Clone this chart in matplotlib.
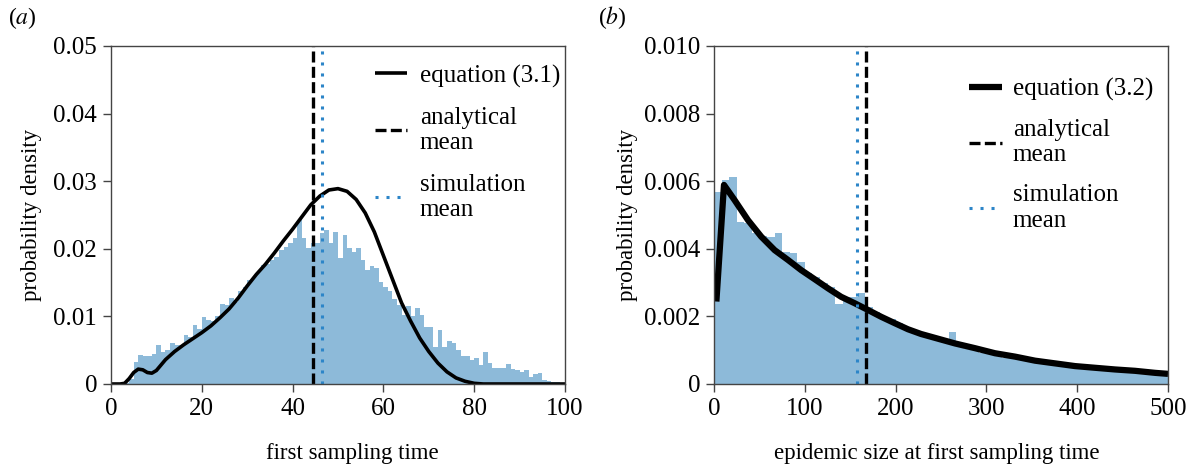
import numpy as np
import matplotlib
matplotlib.use("Agg")
import matplotlib.pyplot as plt

plt.rcParams['font.family'] = ['Liberation Serif', 'DejaVu Serif']
plt.rcParams['mathtext.fontset'] = 'stix'

# ---------------- data: panel (a) ----------------
hist_a_binwidth = 1
hist_a_values = [
    0, 0, 0, 0.0002, 0.0008, 0.0033, 0.0043, 0.0042, 0.0041, 0.0045,
    0.0058, 0.0047, 0.0050, 0.0061, 0.0058, 0.0058, 0.0072, 0.0070, 0.0087, 0.0082,
    0.0099, 0.0095, 0.0093, 0.0100, 0.0119, 0.0117, 0.0127, 0.0122, 0.0137, 0.0144,
    0.0154, 0.0159, 0.0166, 0.0176, 0.0178, 0.0183, 0.0188, 0.0198, 0.0202, 0.0208,
    0.0216, 0.0243, 0.0216, 0.0201, 0.0208, 0.0208, 0.0223, 0.0228, 0.0208, 0.0225,
    0.0186, 0.0221, 0.0201, 0.0196, 0.0201, 0.0183, 0.0168, 0.0174, 0.0171, 0.0151,
    0.0144, 0.0137, 0.0126, 0.0117, 0.0102, 0.0115, 0.0100, 0.0113, 0.0102, 0.0085,
    0.0084, 0.0055, 0.0080, 0.0055, 0.0064, 0.0061, 0.0051, 0.0041, 0.0041, 0.0036,
    0.0038, 0.0028, 0.0048, 0.0031, 0.0024, 0.0024, 0.0024, 0.0030, 0.0022, 0.0020,
    0.0018, 0.0020, 0.0010, 0.0015, 0.0017, 0.0006, 0.0005, 0.0003, 0.0003, 0.0002,
]
curve_a_x = [0, 2, 3, 4, 5, 6, 7, 8, 9, 10, 11, 12, 14, 16, 18, 20, 22, 24, 26, 28,
             30, 32, 34, 36, 38, 40, 42, 44, 46, 48, 50, 52, 54, 56, 58, 60, 62, 64,
             66, 68, 70, 72, 74, 76, 78, 80, 82, 100]
curve_a_y = [0, 0, 0.0001, 0.0008, 0.0017, 0.0022, 0.0021, 0.0017, 0.0016, 0.0020,
             0.0028, 0.0036, 0.0048, 0.0058, 0.0067, 0.0076, 0.0086, 0.0098, 0.0111,
             0.0127, 0.0145, 0.0162, 0.0177, 0.0194, 0.0212, 0.0229, 0.0247, 0.0265,
             0.0278, 0.0287, 0.0289, 0.0285, 0.0273, 0.0253, 0.0225, 0.0190, 0.0155,
             0.0120, 0.0093, 0.0068, 0.0048, 0.0031, 0.0018, 0.0009, 0.0004, 0.0001,
             0, 0]
analytical_mean_a = 44.4
simulation_mean_a = 46.4
xticks_a = [0, 20, 40, 60, 80, 100]
yticks_a = [0, 0.01, 0.02, 0.03, 0.04, 0.05]
yticklabels_a = ['0', '0.01', '0.02', '0.03', '0.04', '0.05']

# ---------------- data: panel (b) ----------------
hist_b_binwidth = 500 / 60
hist_b_values = [
    0.00569, 0.00604, 0.00611, 0.00480, 0.00475, 0.00446, 0.00438, 0.00436, 0.00446, 0.00392,
    0.00387, 0.00362, 0.00327, 0.00318, 0.00298, 0.00288, 0.00237, 0.00258, 0.00258, 0.00268,
    0.00229, 0.00214, 0.00199, 0.00191, 0.00180, 0.00165, 0.00160, 0.00150, 0.00145, 0.00135,
    0.00125, 0.00155, 0.00108, 0.00105, 0.00102, 0.00092, 0.00090, 0.00087, 0.00078, 0.00079,
    0.00075, 0.00068, 0.00066, 0.00062, 0.00060, 0.00056, 0.00055, 0.00051, 0.00050, 0.00047,
    0.00046, 0.00044, 0.00042, 0.00040, 0.00039, 0.00037, 0.00036, 0.00034, 0.00031, 0.00029,
]
curve_b_x = [2.6, 11, 22.7, 37.4, 52, 66.8, 81.5, 96, 110.9, 125.6, 140, 154.9, 169.6,
             184, 199, 213.6, 228, 246.7, 265.4, 287.4, 309.5, 331.5, 353.6, 375.6,
             397.6, 419.6, 441.7, 463.7, 485.7, 500]
curve_b_y = [0.00244, 0.00589, 0.00544, 0.00485, 0.00436, 0.00396, 0.00367, 0.00337,
             0.00310, 0.00283, 0.00258, 0.00239, 0.00219, 0.00199, 0.00180, 0.00162,
             0.00148, 0.00134, 0.00120, 0.00106, 0.00091, 0.00081, 0.00069, 0.00061,
             0.00053, 0.00048, 0.00043, 0.00039, 0.00033, 0.00030]
analytical_mean_b = 167
simulation_mean_b = 157
xticks_b = [0, 100, 200, 300, 400, 500]
yticks_b = [0, 0.002, 0.004, 0.006, 0.008, 0.010]
yticklabels_b = ['0', '0.002', '0.004', '0.006', '0.008', '0.010']

# ---------------- style ----------------
HIST_COLOR = '#8dbad9'
BLUE = '#2c85c8'
SPINE = '#444444'
FS_TICK = 18
FS_LAB = 16.5
FS_LEG = 18

fig = plt.figure(figsize=(11.91, 4.68), dpi=100)
ax1 = fig.add_axes([111 / 1191, 84 / 468, 454 / 1191, 338 / 468])
ax2 = fig.add_axes([714 / 1191, 84 / 468, 454 / 1191, 338 / 468])


def style_axes(ax):
    for s in ax.spines.values():
        s.set_color(SPINE)
        s.set_linewidth(1.0)
    ax.tick_params(direction='out', length=6, width=1.0, color=SPINE,
                   labelsize=FS_TICK, top=False, right=False, pad=4)


def draw_panel(ax, values, binwidth, cx, cy, lw_curve, am, sm, label_eq):
    edges = np.arange(len(values) + 1) * binwidth
    ax.hist(edges[:-1], bins=edges, weights=values, color=HIST_COLOR,
            histtype='stepfilled', linewidth=0)
    ax.plot(cx, cy, color='black', lw=lw_curve, solid_capstyle='butt',
            solid_joinstyle='round', label=label_eq)
    ax.axvline(am, color='black', lw=2.4, linestyle=(0, (3.3, 1.3)),
               label='analytical\nmean')
    ax.axvline(sm, color=BLUE, lw=2.2, linestyle=(0, (1, 2.6)),
               label='simulation\nmean')


draw_panel(ax1, hist_a_values, hist_a_binwidth, curve_a_x, curve_a_y, 2.6,
           analytical_mean_a, simulation_mean_a, 'equation (3.1)')
ax1.set_xlim(0, 100)
ax1.set_ylim(0, 0.05)
ax1.set_xticks(xticks_a)
ax1.set_yticks(yticks_a)
ax1.set_yticklabels(yticklabels_a)
ax1.set_xlabel('first sampling time', fontsize=FS_LAB, labelpad=18)
ax1.xaxis.set_label_coords(0.531, -0.175)
ax1.set_ylabel('probability density', fontsize=FS_LAB, labelpad=8)
style_axes(ax1)
ax1.legend(loc='upper left', bbox_to_anchor=(0.559, 0.975), frameon=False,
           fontsize=FS_LEG, handlelength=1.3, handletextpad=0.5,
           labelspacing=0.78, borderaxespad=0)

draw_panel(ax2, hist_b_values, hist_b_binwidth, curve_b_x, curve_b_y, 4.5,
           analytical_mean_b, simulation_mean_b, 'equation (3.2)')
ax2.set_xlim(0, 500)
ax2.set_ylim(0, 0.010)
ax2.set_xticks(xticks_b)
ax2.set_yticks(yticks_b)
ax2.set_yticklabels(yticklabels_b)
ax2.set_xlabel('epidemic size at first sampling time', fontsize=FS_LAB)
ax2.xaxis.set_label_coords(0.49, -0.175)
ax2.set_ylabel('probability density', fontsize=FS_LAB, labelpad=4)
style_axes(ax2)
ax2.legend(loc='upper left', bbox_to_anchor=(0.540, 0.935), frameon=False,
           fontsize=FS_LEG, handlelength=1.3, handletextpad=0.45,
           labelspacing=0.72, borderaxespad=0)

fig.text(8 / 1191, 1 - 18 / 468, r'($a$)', fontsize=17, va='center', ha='left')
fig.text(598 / 1191, 1 - 18 / 468, r'($b$)', fontsize=17, va='center', ha='left')

fig.savefig('out.png', dpi=100)
